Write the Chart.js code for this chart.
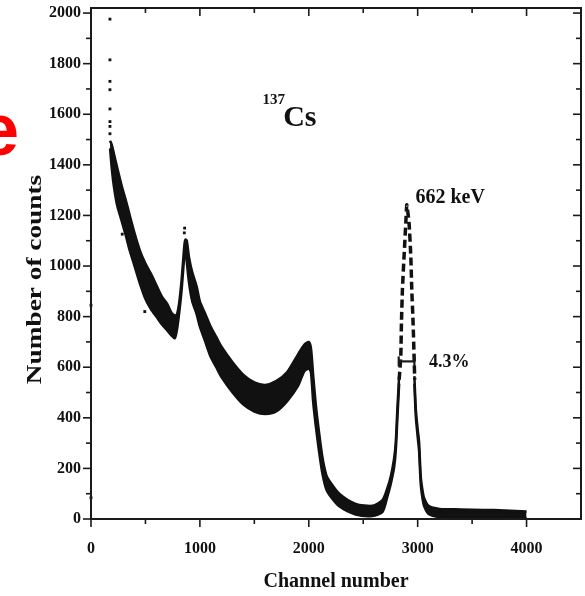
<!DOCTYPE html>
<html>
<head>
<meta charset="utf-8">
<script src="https://cdn.jsdelivr.net/npm/chart.js@4.4.1/dist/chart.umd.min.js"></script>
<style>
  html, body { margin: 0; padding: 0; background: #fff; }
  #wrap { position: relative; width: 585px; height: 596px; overflow: hidden; }
  #c { position: absolute; left: 0; top: 0; }
  #slideMark { position: absolute; left: -22px; top: 93px; font: bold 74px "Liberation Sans", Arial, sans-serif;
               color: #ff0000; line-height: 74px; }
</style>
</head>
<body>
<div id="wrap">
  <div id="slideMark">e</div>
  <canvas id="c" width="585" height="596"></canvas>
</div>
<script>
// ---- 137Cs pulse-height spectrum (counts per channel) ----

// Axis ticks
const xTicks = [0, 1000, 2000, 3000, 4000];
const yTicks = [0, 200, 400, 600, 800, 1000, 1200, 1400, 1600, 1800, 2000];

// Continuum band (backscatter peak, Compton continuum, Compton edge, rise of photopeak):
// lower and upper spread of the scattered counts at each channel
const contChannels = [175, 190, 210, 240, 280, 320, 350, 400, 450, 500, 550, 600, 650, 700, 740,
  770, 790, 810, 830, 845, 858, 868, 880, 900, 930, 970, 1000, 1050, 1100, 1150, 1200, 1300, 1400,
  1500, 1600, 1700, 1800, 1900, 1960, 2000, 2020, 2040, 2065, 2095, 2125, 2160, 2190, 2280, 2430,
  2585, 2677, 2720, 2754, 2784, 2799, 2814, 2830];
const contLower = [1465, 1390, 1315, 1240, 1180, 1120, 1070, 1000, 930, 870, 830, 800, 770, 745, 725,
  715, 750, 815, 895, 975, 1045, 1075, 1015, 935, 860, 810, 760, 700, 640, 600, 560, 500, 452,
  425, 415, 425, 465, 525, 585, 595, 580, 465, 365, 265, 180, 118, 95, 50, 18,
  12, 28, 85, 140, 205, 270, 400, 535];
const contUpper = [1495, 1480, 1445, 1390, 1320, 1260, 1210, 1130, 1060, 1010, 970, 925, 880, 850, 815,
  805, 810, 855, 935, 1015, 1085, 1105, 1100, 1035, 975, 920, 860, 810, 760, 720, 680, 620, 570,
  540, 530, 545, 580, 650, 690, 700, 675, 570, 450, 340, 245, 175, 150, 100, 60,
  52, 75, 120, 170, 240, 305, 440, 565];

// Upper part of the 662 keV photopeak (sparse channels -> dashed look)
const peakChannels = [2830, 2845, 2851, 2860, 2875, 2891, 2900, 2906, 2921, 2937, 2946, 2958, 2967, 2973];
const peakCounts   = [551, 643, 775, 906, 1038, 1170, 1242, 1225, 1170, 1038, 906, 775, 643, 551];

// Falling edge of the photopeak and the high-energy tail
const tailChannels = [2970, 2983, 3000, 3013, 3028, 3045, 3060, 3100, 3200, 3400, 3600, 3800, 4000];
const tailLower = [535, 405, 325, 270, 140, 80, 50, 20, 8, 6, 5, 5, 4];
const tailUpper = [565, 435, 355, 305, 170, 112, 82, 52, 40, 38, 36, 34, 30];

// Isolated channels standing apart from the band
const strayChannels = [0, 0, 174, 174, 174, 174, 174, 174, 174, 174, 272, 287, 494, 857, 860];
const strayCounts   = [845, 84, 1976, 1815, 1730, 1697, 1621, 1571, 1552, 1523, 1328, 1126, 820, 1131, 1150];

// Resolution marker: full width at half maximum of the photopeak
const fwhmChannels = [2826, 2970];
const halfMax = 623;

const pts = (xs, ys) => xs.map((v, i) => ({ x: v, y: ys[i] }));
const INK = '#111';
const SERIF = '"Liberation Serif", "Times New Roman", serif';

const overlay = {
  id: 'overlay',
  afterDatasetsDraw(chart) {
    const { ctx, chartArea: a, scales: { x, y } } = chart;
    const seg = (x1, y1, x2, y2) => { ctx.beginPath(); ctx.moveTo(x1, y1); ctx.lineTo(x2, y2); ctx.stroke(); };
    ctx.save();
    ctx.strokeStyle = '#1a1a1a';
    ctx.fillStyle = INK;

    // frame
    ctx.lineWidth = 2;
    ctx.strokeRect(a.left, a.top, a.right - a.left, a.bottom - a.top);

    // x ticks: outward at bottom, inward at top, minor every 500
    ctx.lineWidth = 1.6;
    for (let v = 0; v < x.max; v += 500) {
      const px = x.getPixelForValue(v);
      const len = v % 1000 === 0 ? 8 : 5;
      seg(px, a.bottom, px, a.bottom + len);
      seg(px, a.top, px, a.top + len);
    }
    // y ticks: outward at left, inward at right, minor every 100
    for (let v = 0; v <= 2000; v += 100) {
      const py = y.getPixelForValue(v);
      const len = v % 200 === 0 ? 8 : 5;
      seg(a.left - len, py, a.left, py);
      seg(a.right - len, py, a.right, py);
    }

    // FWHM marker
    const hx1 = x.getPixelForValue(fwhmChannels[0]);
    const hx2 = x.getPixelForValue(fwhmChannels[1]);
    const hy = y.getPixelForValue(halfMax);
    ctx.lineWidth = 2.2;
    seg(hx1, hy, hx2, hy);
    seg(hx1, hy - 5, hx1, hy + 5);
    seg(hx2, hy - 5, hx2, hy + 5);

    // annotations
    ctx.textBaseline = 'alphabetic';
    ctx.textAlign = 'left';
    ctx.font = 'bold 18px ' + SERIF;
    ctx.fillText('4.3%', x.getPixelForValue(3104), hy + 6);
    ctx.font = 'bold 20px ' + SERIF;
    ctx.fillText('662 keV', x.getPixelForValue(2980), y.getPixelForValue(1250));
    ctx.font = 'bold 15px ' + SERIF;
    ctx.fillText('137', x.getPixelForValue(1575), y.getPixelForValue(1640));
    ctx.font = 'bold 30px ' + SERIF;
    ctx.fillText('Cs', x.getPixelForValue(1765), y.getPixelForValue(1552));

    // y-axis title, set in a tall condensed cut
    ctx.translate(36, (a.top + a.bottom) / 2 + 16);
    ctx.rotate(-Math.PI / 2);
    ctx.scale(1.3, 1);
    ctx.textAlign = 'center';
    ctx.textBaseline = 'middle';
    ctx.font = 'bold 21px ' + SERIF;
    ctx.fillText('Number of counts', 0, 0);
    ctx.restore();
  }
};

const bandStyle = { borderColor: INK, backgroundColor: INK, borderWidth: 2.5, pointRadius: 0, tension: 0.25 };
const plain = v => String(v);

new Chart(document.getElementById('c'), {
  type: 'line',
  data: {
    datasets: [
      { ...bandStyle, label: 'continuum upper', data: pts(contChannels, contUpper), fill: '+1' },
      { ...bandStyle, label: 'continuum lower', data: pts(contChannels, contLower), fill: false },
      { label: '662 keV photopeak', data: pts(peakChannels, peakCounts), borderColor: INK, borderWidth: 3.5,
        borderDash: [8, 4], pointRadius: 0, fill: false, tension: 0.2 },
      { ...bandStyle, label: 'tail upper', data: pts(tailChannels, tailUpper), fill: '+1' },
      { ...bandStyle, label: 'tail lower', data: pts(tailChannels, tailLower), fill: false },
      { type: 'scatter', label: 'isolated channels', data: pts(strayChannels, strayCounts),
        pointStyle: 'rect', pointRadius: 2, pointBackgroundColor: INK, pointBorderWidth: 0, clip: false }
    ]
  },
  options: {
    responsive: false,
    animation: false,
    devicePixelRatio: 1,
    layout: { padding: { left: 0, right: 3, top: 8, bottom: 0 } },
    plugins: { legend: { display: false }, tooltip: { enabled: false } },
    scales: {
      x: {
        type: 'linear', min: 0, max: 4500,
        afterBuildTicks: s => { s.ticks = xTicks.map(v => ({ value: v })); },
        afterFit: s => { s.height = 77; s.paddingLeft = 0; s.paddingRight = 0; },
        grid: { display: false, drawTicks: false },
        border: { display: false },
        ticks: { padding: 20, autoSkip: false, maxRotation: 0, color: INK, callback: plain,
                 font: { family: SERIF, size: 16, weight: 'bold' } },
        title: { display: true, text: 'Channel number', color: INK, padding: { top: 0, bottom: 2 },
                 font: { family: SERIF, size: 20, weight: 'bold' } }
      },
      y: {
        type: 'linear', min: 0, max: 2020,
        afterBuildTicks: s => { s.ticks = yTicks.map(v => ({ value: v })); },
        afterFit: s => { s.width = 91; s.paddingTop = 0; s.paddingBottom = 0; },
        grid: { display: false, drawTicks: false },
        border: { display: false },
        ticks: { padding: 10, autoSkip: false, color: INK, callback: plain,
                 font: { family: SERIF, size: 16, weight: 'bold' } }
      }
    }
  },
  plugins: [overlay]
});
</script>
</body>
</html>
